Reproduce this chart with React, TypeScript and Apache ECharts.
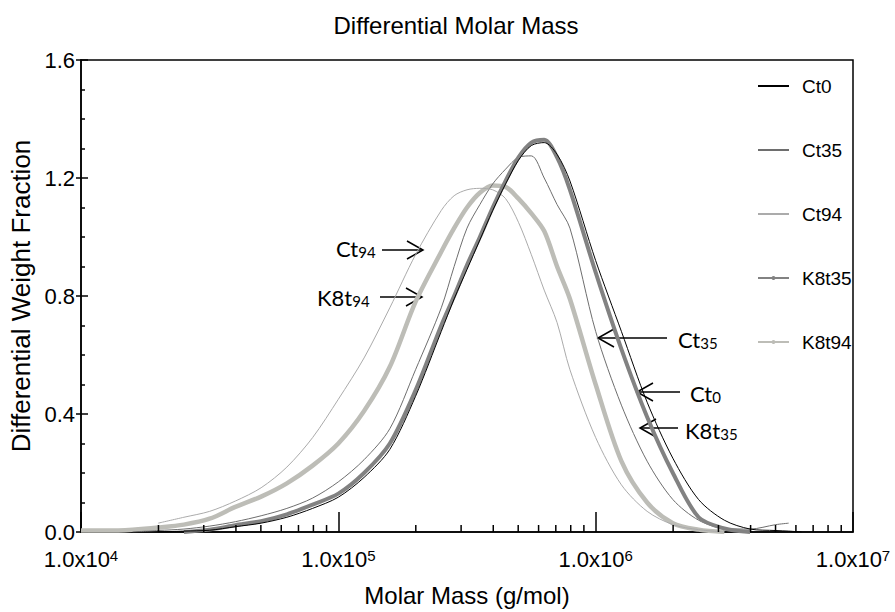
import React, { useEffect, useRef } from 'react';
import * as echarts from 'echarts';

// Molar mass grid (g/mol)
const molarMass = [
  10000, 12589, 15849, 19953, 25119, 31623, 39811, 50119, 63096, 79433,
  100000, 125893, 158489, 199526, 251189, 281838, 316228, 354813, 398107, 446684,
  501187, 562341, 630957, 707946, 794328, 1000000, 1258925, 1584893, 1995262, 2511886,
  3162278, 3981072, 5011872, 5623413, 6309573,
];

const ct0 = [
  null, null, null, 0.0, 0.003, 0.006, 0.018, 0.03, 0.05, 0.08,
  0.118, 0.185, 0.28, 0.46, 0.68, 0.79, 0.89, 0.99, 1.09, 1.18,
  1.26, 1.31, 1.32, 1.28, 1.19, 0.92, 0.68, 0.44, 0.25, 0.11,
  0.04, 0.01, 0.005, 0.003, 0.0,
];
const ct35 = [
  null, null, 0.0, 0.005, 0.01, 0.02, 0.035, 0.055, 0.08, 0.115,
  0.17, 0.245, 0.35, 0.55, 0.76, 0.9, 1.03, 1.11, 1.18, 1.23,
  1.27, 1.275, 1.2, 1.11, 1.03, 0.68, 0.43, 0.24, 0.11, 0.04,
  0.012, 0.01, 0.025, 0.03, null,
];
const ct94 = [
  null, null, null, 0.03, 0.05, 0.07, 0.105, 0.15, 0.22, 0.32,
  0.45, 0.59, 0.76, 0.94, 1.09, 1.14, 1.16, 1.165, 1.16, 1.13,
  1.05, 0.94, 0.82, 0.71, 0.55, 0.32, 0.16, 0.07, 0.025, 0.008,
  0.0, null, null, null, null,
];
const k8t35 = [
  null, null, null, null, 0.0, 0.008, 0.023, 0.037, 0.06, 0.093,
  0.13, 0.2, 0.3, 0.48, 0.7, 0.8, 0.905, 1.0, 1.1, 1.19,
  1.27, 1.32, 1.33, 1.27, 1.16, 0.88, 0.62, 0.39, 0.2, 0.05,
  0.012, 0.0, null, null, null,
];
const k8t94 = [
  0.005, 0.005, 0.008, 0.015, 0.025, 0.045, 0.085, 0.12, 0.165, 0.225,
  0.3, 0.41, 0.56, 0.78, 0.95, 1.03, 1.1, 1.15, 1.175, 1.17,
  1.13, 1.08, 1.02, 0.9, 0.79, 0.5, 0.24, 0.1, 0.03, 0.008,
  0.0, null, null, null, null,
];

const seriesNames = ['Ct0', 'Ct35', 'Ct94', 'K8t35', 'K8t94'];
const minorTickValues = [
  20000, 30000, 40000, 50000, 60000, 70000, 80000, 90000,
  200000, 300000, 400000, 500000, 600000, 700000, 800000, 900000,
  2000000, 3000000, 4000000, 5000000, 6000000, 7000000, 8000000, 9000000,
];

// annotation labels (text, subscript) and their layout
const annotations = [
  { main: 'Ct', sub: '94', tx: 336, ty: 248, x1: 382, x2: 423, y: 250 },
  { main: 'K8t', sub: '94', tx: 317, ty: 297, x1: 380, x2: 422, y: 297 },
  { main: 'Ct', sub: '35', tx: 678, ty: 339, x1: 667, x2: 598, y: 338 },
  { main: 'Ct', sub: '0', tx: 690, ty: 393, x1: 680, x2: 637, y: 392 },
  { main: 'K8t', sub: '35', tx: 685, ty: 430, x1: 678, x2: 640, y: 428 },
];

const FONT = '"Liberation Sans", Arial, Helvetica, sans-serif';
const ANNO_FONT = 'Lato, "Open Sans", sans-serif';

const toPairs = (vals: (number | null)[]) =>
  molarMass.map((m, i) => [m, vals[i]]).filter((p) => p[1] !== null);

export default function App() {
  const ref = useRef<HTMLDivElement>(null);
  useEffect(() => {
    if (!ref.current) return;
    const chart = echarts.init(ref.current, undefined, { renderer: 'svg' });

    const styles = [
      { color: '#000000', width: 1, symbol: 'none' },
      { color: '#6e6e6e', width: 1, symbol: 'none' },
      { color: '#ababab', width: 1, symbol: 'none' },
      { color: '#828282', width: 4, symbol: 'circle' },
      { color: '#bdbdb7', width: 4.5, symbol: 'circle' },
    ];
    const dataSets = [ct0, ct35, ct94, k8t35, k8t94];
    const zOrder = [3, 2, 2, 2, 1];

    const lineSeries = seriesNames.map((name, i) => ({
      name,
      type: 'line',
      data: toPairs(dataSets[i]),
      smooth: 0.3,
      symbol: styles[i].symbol,
      symbolSize: 5,
      showSymbol: false,
      lineStyle: { color: styles[i].color, width: styles[i].width },
      itemStyle: { color: styles[i].color },
      z: zOrder[i],
    }));

    const graphics: any[] = [];
    annotations.forEach((a) => {
      graphics.push({
        type: 'text',
        x: a.tx,
        y: a.ty,
        style: {
          text: `${a.main}{s|${a.sub}}`,
          font: `22px ${ANNO_FONT}`,
          fill: '#000',
          textAlign: 'left',
          textVerticalAlign: 'middle',
          rich: {
            s: { fontSize: 15, fontFamily: ANNO_FONT, fill: '#000', verticalAlign: 'bottom', padding: [7, 0, 0, 0] },
          },
        },
      });
      const d = Math.sign(a.x2 - a.x1);
      graphics.push({
        type: 'line',
        shape: { x1: a.x1, y1: a.y, x2: a.x2, y2: a.y },
        style: { stroke: '#000', lineWidth: 1.5 },
      });
      graphics.push({
        type: 'polyline',
        shape: { points: [[a.x2 - d * 16, a.y - 9], [a.x2, a.y], [a.x2 - d * 16, a.y + 9]] },
        style: { stroke: '#000', lineWidth: 1.5, fill: null },
      });
    });

    const legendData = seriesNames.map((name, i) =>
      styles[i].symbol === 'none'
        ? { name, itemStyle: { color: 'rgba(0,0,0,0)', borderWidth: 0 } }
        : { name }
    );

    chart.setOption({
      animation: false,
      backgroundColor: '#ffffff',
      title: {
        text: 'Differential Molar Mass',
        left: 456,
        top: 13,
        textAlign: 'center',
        padding: 0,
        textStyle: { fontFamily: FONT, fontSize: 24, fontWeight: 'normal', color: '#000' },
      },
      legend: {
        data: legendData,
        orient: 'vertical',
        left: 757,
        top: 76,
        itemWidth: 31,
        itemHeight: 5,
        itemGap: 44,
        padding: 0,
        textStyle: { fontFamily: FONT, fontSize: 19, lineHeight: 20, color: '#000', padding: [0, 0, 0, 8] },
      },
      grid: {
        left: 81,
        right: 42,
        top: 60,
        bottom: 80,
        containLabel: false,
        outerBoundsMode: 'none',
        show: true,
        borderColor: '#000',
        borderWidth: 1.5,
        backgroundColor: 'transparent',
      },
      xAxis: {
        type: 'log',
        logBase: 10,
        min: 10000,
        max: 10000000,
        splitNumber: 3,
        name: 'Molar Mass (g/mol)',
        nameLocation: 'middle',
        nameGap: 51,
        nameTextStyle: { fontFamily: FONT, fontSize: 24, color: '#000' },
        axisLine: { show: true, lineStyle: { color: '#000', width: 1.5 } },
        axisTick: { show: true, inside: true, length: 20, lineStyle: { color: '#000', width: 1.5 } },
        minorTick: { show: false },
        splitLine: { show: false },
        axisLabel: {
          show: true,
          showMinLabel: true,
          showMaxLabel: true,
          hideOverlap: false,
          margin: 16,
          fontFamily: FONT,
          fontSize: 22,
          color: '#000',
          formatter: (v: number) => `1.0x10{sup|${Math.round(Math.log10(v))}}`,
          rich: { sup: { fontFamily: FONT, fontSize: 15, color: '#000', verticalAlign: 'top' } },
        },
      },
      yAxis: [
        {
          type: 'value',
          min: 0,
          max: 1.6,
          interval: 0.4,
          name: 'Differential Weight Fraction',
          nameLocation: 'middle',
          nameGap: 43,
          nameTextStyle: { fontFamily: FONT, fontSize: 26, color: '#000' },
          axisLine: { show: true, lineStyle: { color: '#000', width: 1.5 } },
          axisTick: { show: true, inside: true, length: 7, lineStyle: { color: '#000', width: 1.5 } },
          minorTick: { show: true, splitNumber: 4, length: 4, lineStyle: { color: '#000', width: 1.5 } },
          splitLine: { show: false },
          minorSplitLine: { show: false },
          axisLabel: {
            margin: 6,
            fontFamily: FONT,
            fontSize: 22,
            color: '#000',
            formatter: (v: number) => v.toFixed(1),
          },
        },
        {
          type: 'value',
          position: 'left',
          min: 0,
          max: 1.6,
          interval: 0.4,
          axisLine: { show: false },
          axisTick: { show: true, inside: false, length: 5, lineStyle: { color: '#000', width: 1.5 } },
          axisLabel: { show: false },
          splitLine: { show: false },
        },
      ],
      series: [
        ...lineSeries,
        {
          type: 'custom',
          name: 'minorTicks',
          silent: true,
          clip: false,
          z: 10,
          data: minorTickValues.map((v) => [v, 0]),
          renderItem: (params: any, api: any) => {
            const p = api.coord([api.value(0), 0]);
            return {
              type: 'line',
              shape: { x1: p[0], y1: p[1], x2: p[0], y2: p[1] - 7 },
              style: { stroke: '#000', lineWidth: 1.5 },
            };
          },
        },
      ],
      graphic: graphics,
    });

    return () => chart.dispose();
  }, []);

  return (
    <div
      ref={ref}
      style={{ position: 'fixed', left: 0, top: 0, width: 895, height: 612, background: '#fff' }}
    />
  );
}
